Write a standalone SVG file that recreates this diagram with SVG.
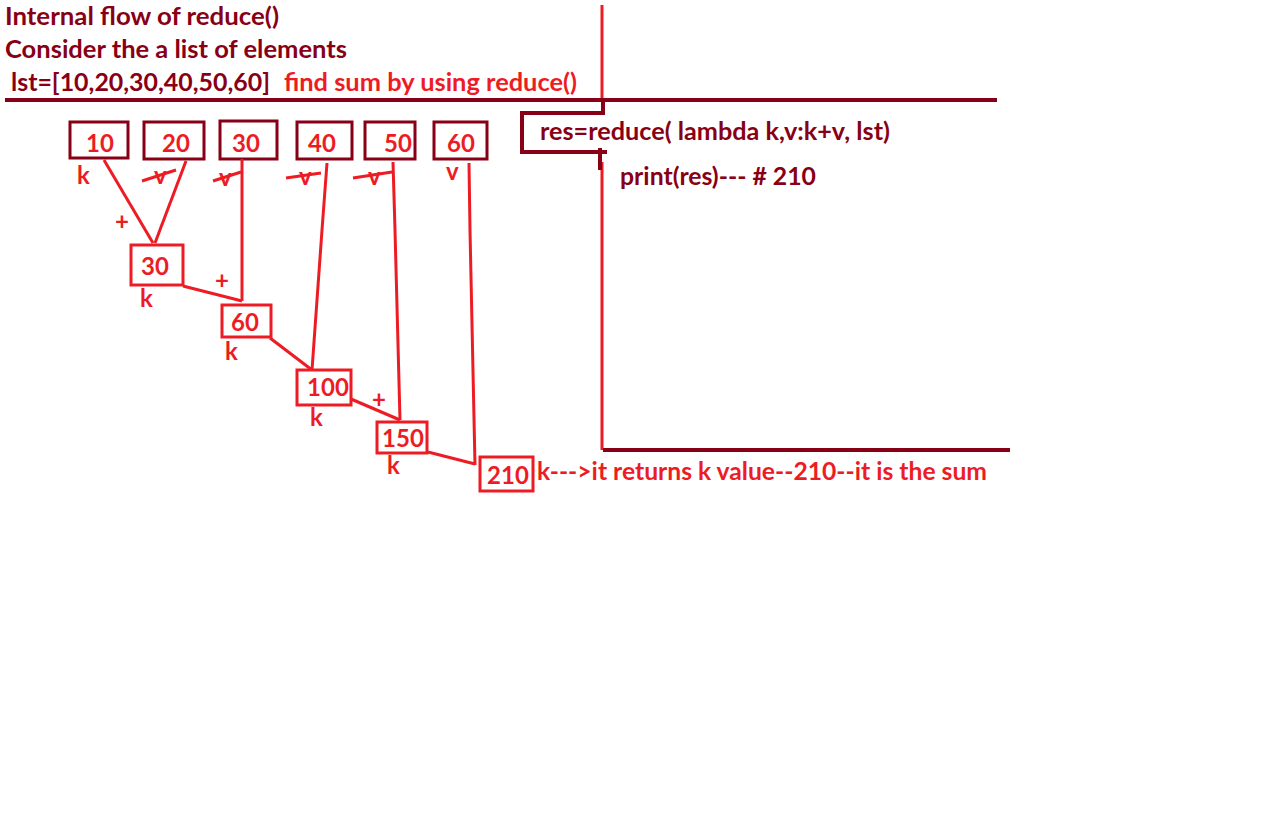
<svg xmlns="http://www.w3.org/2000/svg" width="1266" height="823" viewBox="0 0 1266 823">
<style>
text{font-family:Lato,"Open Sans","Liberation Sans",sans-serif;font-weight:bold;font-size:24px}
.dk{fill:#880015}
.rd{fill:#ED1C24}
.num{fill:#ED1C24;text-anchor:middle}
.bx{fill:none;stroke:#880015;stroke-width:3}
.rb{fill:none;stroke:#ED1C24;stroke-width:3}
.ln{stroke:#ED1C24;stroke-width:3;fill:none}
.dl{stroke:#880015;stroke-width:4;fill:none}
</style>
<rect width="1266" height="823" fill="#fff"/>
<g id="header">
<text class="dk" x="5" y="25" textLength="274" lengthAdjust="spacingAndGlyphs">Internal flow of reduce()</text>
<text class="dk" x="5" y="58" textLength="342" lengthAdjust="spacingAndGlyphs">Consider the a list of elements</text>
<text class="dk" x="11" y="91" textLength="259" lengthAdjust="spacingAndGlyphs">lst=[10,20,30,40,50,60]</text>
<text class="rd" x="284" y="91" textLength="293" lengthAdjust="spacingAndGlyphs">find sum by using reduce()</text>
</g>
<g id="frame">
<line class="ln" x1="602" y1="5" x2="602" y2="100"/>
<line class="ln" x1="602" y1="162" x2="602" y2="450"/>
<line class="dl" x1="5" y1="100" x2="997" y2="100"/>
<polyline class="dl" points="603,98 603,113 522,113 522,152 607,152"/>
<line class="dl" x1="600" y1="148" x2="600" y2="170"/>
<line class="dl" x1="603" y1="450" x2="1010" y2="450"/>
<text class="dk" x="540" y="140" textLength="350" lengthAdjust="spacingAndGlyphs">res=reduce( lambda k,v:k+v, lst)</text>
<text class="dk" x="620" y="185" textLength="196" lengthAdjust="spacingAndGlyphs">print(res)--- # 210</text>
</g>
<g id="n10"><rect class="bx" x="70" y="122" width="58" height="36"/><text class="num" x="100" y="152">10</text><text class="rd" x="77" y="184">k</text></g>
<g id="n20"><rect class="bx" x="144" y="122" width="60" height="37"/><text class="num" x="176" y="152">20</text><text class="rd" x="154" y="184">v</text></g>
<g id="n30"><rect class="bx" x="220" y="121" width="57" height="38"/><text class="num" x="246" y="152">30</text><text class="rd" x="219" y="186">v</text></g>
<g id="n40"><rect class="bx" x="297" y="122" width="55" height="37"/><text class="num" x="322" y="152">40</text><text class="rd" x="299" y="185">v</text></g>
<g id="n50"><rect class="bx" x="365" y="122" width="50" height="37"/><text class="num" x="398" y="152">50</text><text class="rd" x="368" y="185">v</text></g>
<g id="n60"><rect class="bx" x="434" y="122" width="53" height="37"/><text class="num" x="461" y="152">60</text><text class="rd" x="446" y="180">v</text></g>
<g id="r30"><rect class="rb" x="131" y="245" width="52" height="40"/><text class="num" x="155" y="275">30</text><text class="rd" x="140" y="307">k</text></g>
<g id="r60"><rect class="rb" x="222" y="305" width="49" height="32"/><text class="num" x="245" y="331">60</text><text class="rd" x="225" y="360">k</text></g>
<g id="r100"><rect class="rb" x="297" y="370" width="54" height="35"/><text class="num" x="328" y="396">100</text><text class="rd" x="310" y="426">k</text></g>
<g id="r150"><rect class="rb" x="377" y="422" width="50" height="31"/><text class="num" x="403" y="447">150</text><text class="rd" x="387" y="474">k</text></g>
<g id="r210"><rect class="rb" x="480" y="457" width="53" height="34"/><text class="num" x="508" y="484">210</text></g>
<g id="connectors">
<line class="ln" x1="142" y1="181" x2="176" y2="170"/>
<line class="ln" x1="213" y1="181" x2="241" y2="172"/>
<line class="ln" x1="286" y1="178" x2="321" y2="173"/>
<line class="ln" x1="353" y1="178" x2="392" y2="172"/>
<line class="ln" x1="104" y1="160" x2="153" y2="243"/>
<line class="ln" x1="186" y1="161" x2="155" y2="243"/>
<line class="ln" x1="242" y1="159" x2="242" y2="301"/>
<line class="ln" x1="183" y1="286" x2="242" y2="301"/>
<line class="ln" x1="270" y1="338" x2="312" y2="370"/>
<path class="ln" d="M327,163 L322,230 L312,370"/>
<line class="ln" x1="351" y1="399" x2="400" y2="420"/>
<path class="ln" d="M393,162 L395,230 L400,420"/>
<line class="ln" x1="428" y1="452" x2="475" y2="464"/>
<path class="ln" d="M469,163 L470,230 L475,465"/>
</g>
<g id="labels">
<text class="rd" x="115" y="230">+</text>
<text class="rd" x="215" y="289">+</text>
<text class="rd" x="372" y="408">+</text>
<text class="rd" x="537" y="480" textLength="450" lengthAdjust="spacingAndGlyphs">k---&gt;it returns k value--210--it is the sum</text>
</g>
</svg>
